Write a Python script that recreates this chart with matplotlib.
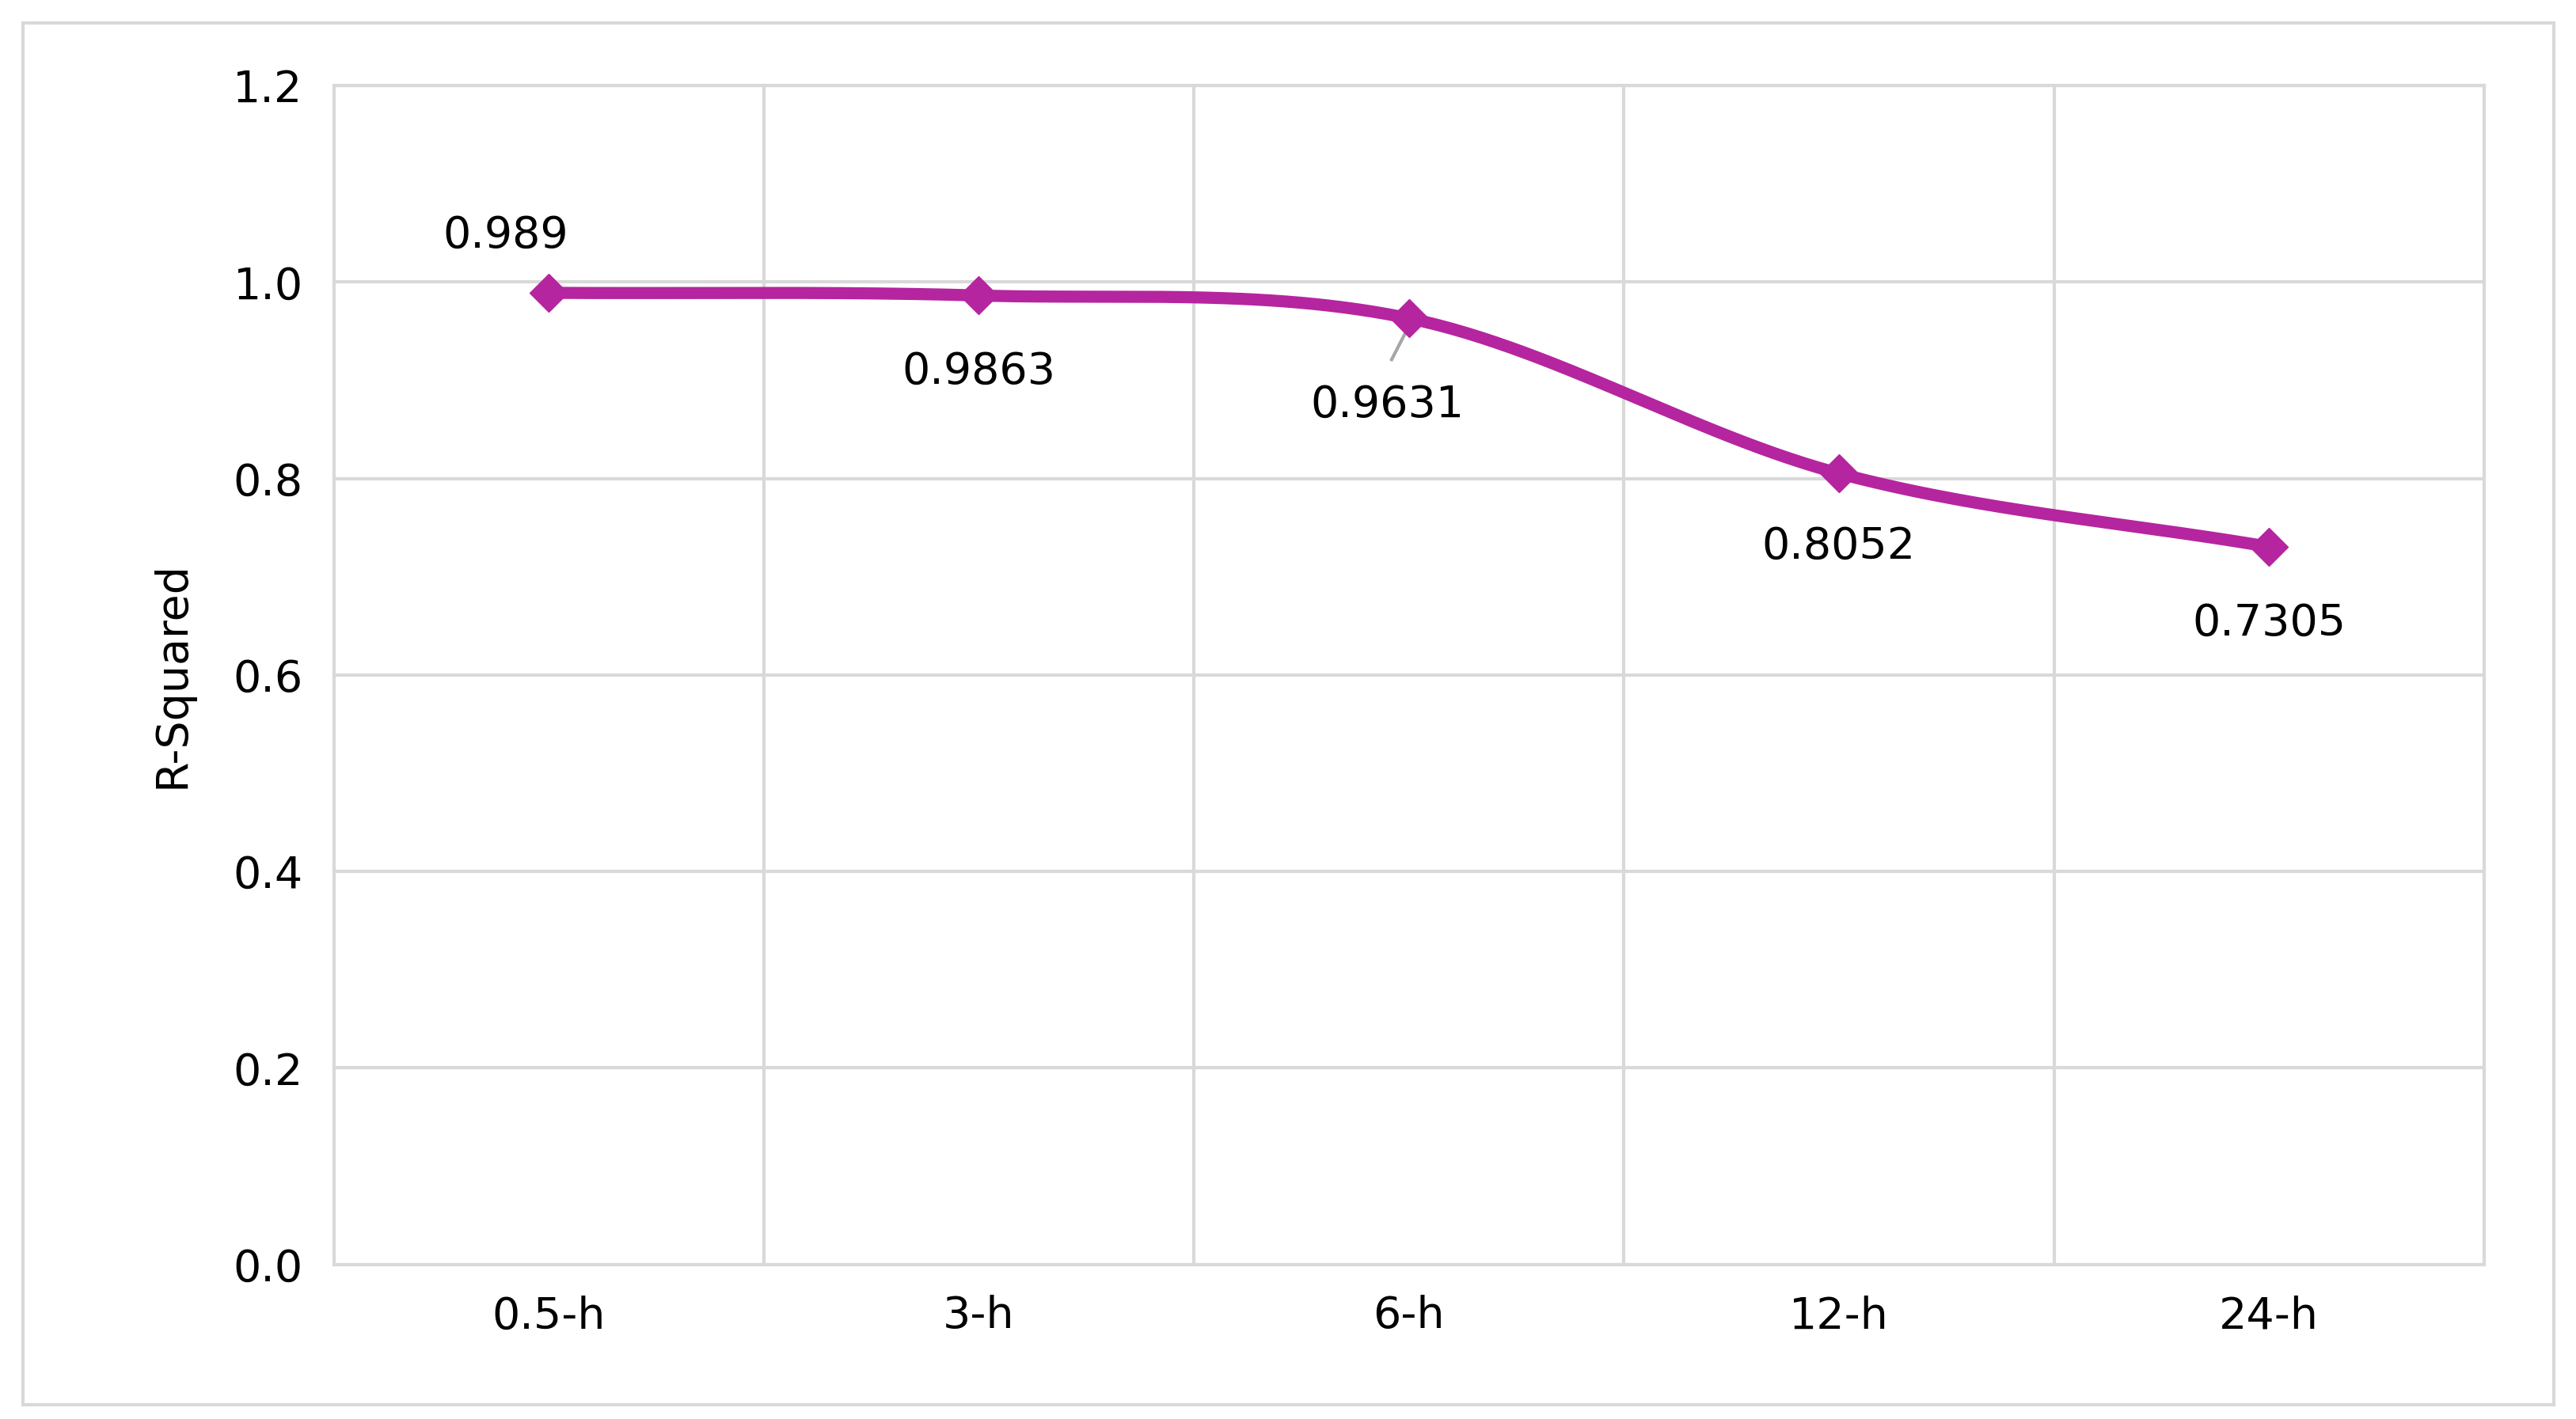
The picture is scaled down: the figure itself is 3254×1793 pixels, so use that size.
import numpy as np
import matplotlib.pyplot as plt
from matplotlib.patches import Rectangle

categories = ["0.5-h", "3-h", "6-h", "12-h", "24-h"]
r_squared = [0.989, 0.9863, 0.9631, 0.8052, 0.7305]
label_text = ["0.989", "0.9863", "0.9631", "0.8052", "0.7305"]

COLOR = "#B5259F"
GRID = "#D9D9D9"
FS = 40


def catmull_rom(x, y, n=60):
    # Excel-like smoothed line through the points
    px = np.concatenate([[2 * x[0] - x[1]], x, [2 * x[-1] - x[-2]]])
    py = np.concatenate([[2 * y[0] - y[1]], y, [2 * y[-1] - y[-2]]])
    xs, ys = [], []
    t = np.linspace(0, 1, n)
    for i in range(1, len(px) - 2):
        for arr, out in ((px, xs), (py, ys)):
            p0, p1, p2, p3 = arr[i - 1:i + 3]
            out.extend(0.5 * (2 * p1 + (-p0 + p2) * t
                              + (2 * p0 - 5 * p1 + 4 * p2 - p3) * t ** 2
                              + (-p0 + 3 * p1 - 3 * p2 + p3) * t ** 3))
    return np.array(xs), np.array(ys)


x = np.arange(len(categories), dtype=float)
y = np.array(r_squared)

fig = plt.figure(figsize=(32.55, 17.93), dpi=100)
fig.patches.append(Rectangle((0.009, 0.010), 0.982, 0.974, transform=fig.transFigure,
                             fill=False, edgecolor=GRID, linewidth=3))
ax = fig.add_axes([0.1295, 0.109, 0.8345, 0.8307])

sx, sy = catmull_rom(x, y)
ax.plot(sx, sy, color=COLOR, linewidth=11, solid_capstyle="round", zorder=3)
ax.plot(x, y, linestyle="none", marker="D", markersize=24, color=COLOR, zorder=4)

ax.set_xlim(-0.5, 4.5)
ax.set_ylim(0, 1.2)
ax.set_yticks(np.arange(0, 1.21, 0.2))
ax.set_yticklabels([f"{v:.1f}" for v in np.arange(0, 1.21, 0.2)])
ax.set_xticks(x)
ax.set_xticklabels(categories)
for b in np.arange(0.5, 4.5, 1.0):
    ax.axvline(b, color=GRID, linewidth=3, zorder=1)
ax.grid(axis="y", color=GRID, linewidth=3, zorder=1)
ax.set_axisbelow(True)
for side, sp in ax.spines.items():
    sp.set_color(GRID)
    sp.set_linewidth(3)
ax.tick_params(length=0, labelsize=FS, pad=28)
ax.set_ylabel("R-Squared", fontsize=FS, labelpad=36)

# data labels
offsets = [(-0.1, 0.058), (0.0, -0.078), (-0.05, -0.088), (0.0, -0.075), (0.0, -0.078)]
for xi, yi, txt, (dx, dy) in zip(x, y, label_text, offsets):
    ax.text(xi + dx, yi + dy, txt, fontsize=FS, ha="center", va="center", zorder=5)
ax.plot([x[2] - 0.04, x[2]], [y[2] - 0.042, y[2] - 0.008], color="#A6A6A6", linewidth=3, zorder=2)

fig.savefig("out.png", dpi=100, facecolor="white")
